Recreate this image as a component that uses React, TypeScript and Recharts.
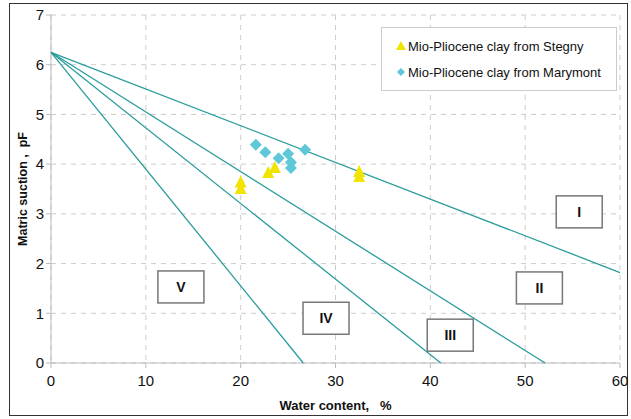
import React from "react";
import {
  ComposedChart,
  Scatter,
  XAxis,
  YAxis,
  CartesianGrid,
} from "recharts";

// zone boundary lines, all from the common point at w = 0
const lineI = [
  { x: 0, y: 6.25 },
  { x: 60, y: 1.82 },
];
const lineII = [
  { x: 0, y: 6.25 },
  { x: 52.1, y: 0 },
];
const lineIII = [
  { x: 0, y: 6.25 },
  { x: 41.1, y: 0 },
];
const lineIV = [
  { x: 0, y: 6.25 },
  { x: 26.6, y: 0 },
];

const stegny = [
  { x: 20, y: 3.5 },
  { x: 20, y: 3.63 },
  { x: 22.9, y: 3.82 },
  { x: 23.6, y: 3.92 },
  { x: 32.5, y: 3.74 },
  { x: 32.5, y: 3.84 },
];
const marymont = [
  { x: 21.6, y: 4.39 },
  { x: 22.6, y: 4.24 },
  { x: 24.0, y: 4.12 },
  { x: 25.0, y: 4.21 },
  { x: 25.3, y: 4.04 },
  { x: 25.3, y: 3.92 },
  { x: 26.8, y: 4.29 },
];

const zones = [
  { x: 55.7, y: 3.04, label: "I" },
  { x: 51.5, y: 1.51, label: "II" },
  { x: 42.1, y: 0.56, label: "III" },
  { x: 29.0, y: 0.9, label: "IV" },
  { x: 13.7, y: 1.53, label: "V" },
];

const xTicks = [0, 10, 20, 30, 40, 50, 60];
const yTicks = [0, 1, 2, 3, 4, 5, 6, 7];

const teal = "#2a9c9c";
const yellow = "#f0e400";
const cyan = "#5ec8d8";

const Triangle = (p: any) => (
  <polygon
    points={`${p.cx},${p.cy - 7} ${p.cx - 6},${p.cy + 5} ${p.cx + 6},${p.cy + 5}`}
    fill={yellow}
  />
);
const Diamond = (p: any) => (
  <polygon
    points={`${p.cx},${p.cy - 6} ${p.cx + 6},${p.cy} ${p.cx},${p.cy + 6} ${p.cx - 6},${p.cy}`}
    fill={cyan}
  />
);
const NoDot = () => null;

const ZoneBox = (p: any) => (
  <g>
    <rect
      x={p.cx - 23}
      y={p.cy - 16}
      width={46}
      height={32}
      fill="#fff"
      stroke="#777"
      strokeWidth={1.5}
    />
    <text
      x={p.cx}
      y={p.cy + 5}
      textAnchor="middle"
      fontSize={14}
      fontWeight="bold"
      fill="#111"
    >
      {p.payload.label}
    </text>
  </g>
);

const XTick = (p: any) => (
  <text
    x={p.x}
    y={p.y + 16}
    textAnchor="middle"
    fontSize={15}
    fill="#111"
  >
    {p.payload.value}
  </text>
);

const LegendBox = () => (
  <div
    style={{
      position: "absolute",
      left: 381,
      top: 27,
      width: 236,
      height: 64,
      boxSizing: "border-box",
      border: "1px solid #ccc",
      background: "#fff",
      padding: "6px 0 0 14px",
      fontSize: 13,
      color: "#111",
      lineHeight: "26px",
    }}
  >
    <div>
      <svg width={10} height={10} style={{ marginRight: 2 }}>
        <polygon points="5,0 0,9 10,9" fill={yellow} />
      </svg>
      Mio-Pliocene clay from Stegny
    </div>
    <div>
      <svg width={10} height={10} style={{ marginRight: 2 }}>
        <polygon points="5,1 9,5 5,9 1,5" fill={cyan} />
      </svg>
      Mio-Pliocene clay from Marymont
    </div>
  </div>
);

export default function App() {
  return (
    <div
      style={{
        position: "absolute",
        left: 0,
        top: 0,
        width: 631,
        height: 419,
        background: "#fff",
        fontFamily: "Arial, 'Liberation Sans', sans-serif",
      }}
    >
      <div
        style={{
          position: "absolute",
          left: 9,
          top: 3,
          width: 617,
          height: 411,
          border: "1.5px solid #333",
        }}
      />
      <ComposedChart
        width={631}
        height={419}
        margin={{ top: 15, right: 11, bottom: 0, left: 10 }}
      >
        <CartesianGrid stroke="#ccc" strokeDasharray="5 5" />
        <XAxis
          type="number"
          dataKey="x"
          domain={[0, 60]}
          ticks={xTicks}
          height={56}
          stroke="#bbb"
          tickSize={5}
          tick={<XTick />}
          label={{
            value: "Water content,\u00a0\u00a0\u00a0%",
            position: "insideBottom",
            offset: 9,
            fill: "#111",
            fontSize: 13,
            fontWeight: "bold",
          }}
        />
        <YAxis
          type="number"
          dataKey="y"
          domain={[0, 7]}
          ticks={yTicks}
          width={41}
          stroke="#bbb"
          tickSize={5}
          tick={{ fill: "#111", fontSize: 15 }}
          label={{
            value: "Matric suction ,\u00a0\u00a0pF",
            angle: -90,
            position: "insideLeft",
            offset: 13,
            fill: "#111",
            fontSize: 12.5,
            fontWeight: "bold",
            style: { textAnchor: "middle" },
          }}
        />
        {[lineI, lineII, lineIII, lineIV].map((d, i) => (
          <Scatter
            key={i}
            data={d}
            line={{ stroke: teal, strokeWidth: 1.3 }}
            shape={NoDot}
            isAnimationActive={false}
          />
        ))}
        <Scatter data={zones} shape={ZoneBox} isAnimationActive={false} />
        <Scatter data={stegny} shape={Triangle} isAnimationActive={false} />
        <Scatter data={marymont} shape={Diamond} isAnimationActive={false} />
      </ComposedChart>
      <LegendBox />
    </div>
  );
}
